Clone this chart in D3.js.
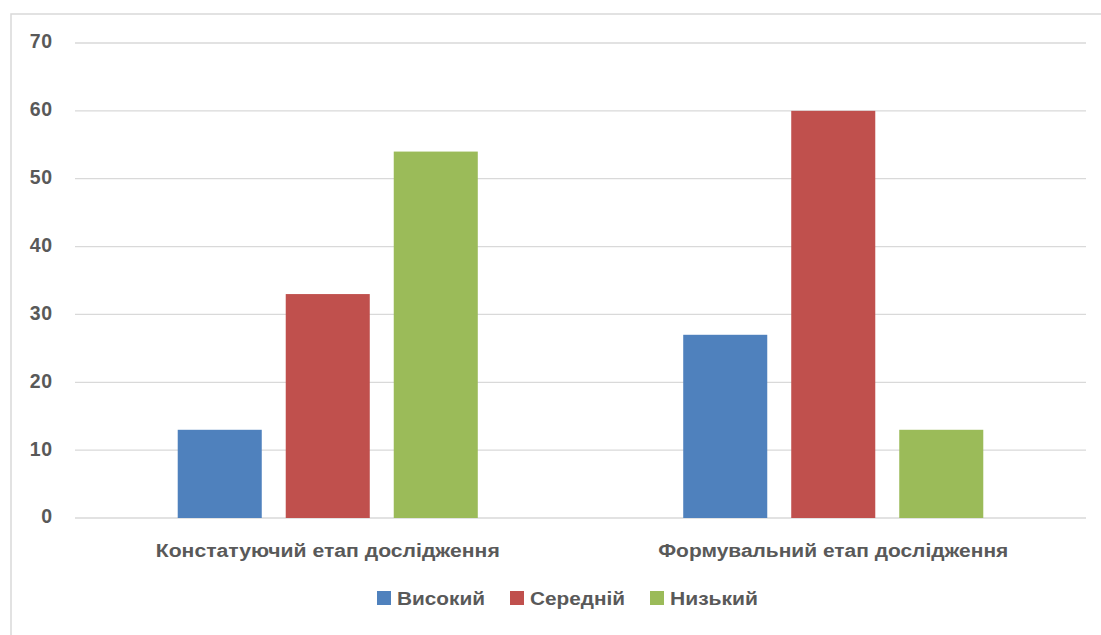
<!DOCTYPE html>
<html>
<head>
<meta charset="utf-8">
<script src="https://cdn.jsdelivr.net/npm/d3@7/dist/d3.min.js"></script>
<style>
  html, body { margin: 0; padding: 0; background: #fff; }
  svg { display: block; }
  text { font-family: "Liberation Sans", "DejaVu Sans", sans-serif; font-weight: bold; fill: #595959; }
</style>
</head>
<body>
<script>
// Chart data
const categories = ["Констатуючий етап дослідження", "Формувальний етап дослідження"];
const seriesNames = ["Високий", "Середній", "Низький"];
const seriesColors = ["#4F81BD", "#C0504D", "#9BBB59"];
const highValues = [13, 27];
const midValues = [33, 60];
const lowValues = [54, 13];
const yTicks = [0, 10, 20, 30, 40, 50, 60, 70];

const seriesValues = [highValues, midValues, lowValues];

const W = 1101, H = 635;
const plot = { left: 75, right: 1086, top: 43, bottom: 518 };

const svg = d3.select("body").append("svg").attr("width", W).attr("height", H);

// Outer chart frame
svg.append("rect")
  .attr("x", 11).attr("y", 14)
  .attr("width", W + 20).attr("height", H + 20)
  .attr("fill", "none").attr("stroke", "#D9D9D9").attr("stroke-width", 1.5);

const y = d3.scaleLinear().domain([0, 70]).range([plot.bottom, plot.top]);
const x0 = d3.scaleBand().domain(categories).range([plot.left, plot.right]).padding(0);
const x1 = d3.scaleBand().domain(seriesNames).range([0, x0.bandwidth()])
  .paddingInner(0.222).paddingOuter(0.951);

// Gridlines
svg.append("g").selectAll("line").data(yTicks).join("line")
  .attr("x1", plot.left).attr("x2", plot.right)
  .attr("y1", d => y(d)).attr("y2", d => y(d))
  .attr("stroke", "#D9D9D9").attr("stroke-width", 1.3);

// Y tick labels
svg.append("g").selectAll("text").data(yTicks).join("text")
  .attr("x", 52.5).attr("y", d => y(d))
  .attr("dy", "0.28em")
  .attr("text-anchor", "end")
  .style("font-size", "19.5px")
  .style("letter-spacing", "0.5px")
  .text(d => d);

// Bars
const groups = svg.append("g").selectAll("g").data(categories).join("g")
  .attr("transform", d => `translate(${x0(d)},0)`);

groups.selectAll("rect")
  .data((c, ci) => seriesNames.map((s, si) => ({ s, si, v: seriesValues[si][ci] })))
  .join("rect")
  .attr("x", d => x1(d.s))
  .attr("width", x1.bandwidth())
  .attr("y", d => y(d.v))
  .attr("height", d => y(0) - y(d.v))
  .attr("fill", d => seriesColors[d.si]);

// Category labels
const catWidths = [344, 350];
svg.append("g").selectAll("text").data(categories).join("text")
  .attr("x", d => x0(d) + x0.bandwidth() / 2)
  .attr("y", 557)
  .attr("text-anchor", "middle")
  .style("font-size", "18px")
  .attr("textLength", (d, i) => catWidths[i])
  .attr("lengthAdjust", "spacingAndGlyphs")
  .text(d => d);

// Legend
const legendX = [377, 510, 650];
const legendW = [88, 95, 88];
const legend = svg.append("g").selectAll("g").data(seriesNames).join("g")
  .attr("transform", (d, i) => `translate(${legendX[i]},591)`);
legend.append("rect").attr("width", 14).attr("height", 14)
  .attr("fill", (d, i) => seriesColors[i]);
legend.append("text")
  .attr("x", 20).attr("y", 14)
  .style("font-size", "18px")
  .attr("textLength", (d, i) => legendW[i])
  .attr("lengthAdjust", "spacingAndGlyphs")
  .text(d => d);
</script>
</body>
</html>
